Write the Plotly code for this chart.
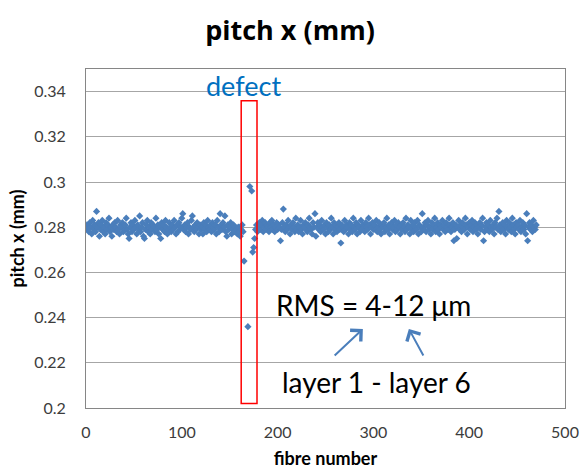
import plotly.graph_objects as go

# pitch per fibre in micrometres (None = no measurement in the defect region)
pitch_um = [
    281, 279, 278, 282, 280, 277, 283, 279, 281, 278,
    287, 280, 282, 276, 279, 281, 283, 278, 280, 277,
    282, 279, 281, 284, 278, 280, 276, 281, 279, 282,
    280, 278, 283, 279, 277, 281, 280, 282, 278, 279,
    281, 284, 279, 277, 275, 280, 282, 278, 281, 279,
    283, 280, 277, 281, 279, 285, 278, 280, 282, 276,
    275, 279, 281, 283, 278, 280, 277, 282, 279, 281,
    280, 278, 284, 279, 281, 277, 280, 275, 282, 279,
    281, 278, 283, 280, 277, 279, 282, 280, 278, 281,
    279, 283, 280, 277, 281, 278, 282, 279, 280, 284,
    286, 279, 281, 278, 280, 282, 277, 280, 279, 283,
    285, 280, 278, 281, 279, 282, 280, 277, 281, 279,
    280, 277, 282, 279, 281, 278, 283, 280, 279, 281,
    278, 282, 280, 279, 281, 277, 283, 280, 278, 286,
    281, 279, 282, 280, 285, 278, 276, 281, 279, 280,
    282, 277, 279, 281, 278, 280, 279, 277, 280, 278,
    276, 279, 281, 278, 265, None, None, None, 236, None,
    298, None, 296, 269, 271, 275, 279, 281, 278, 280,
    282, 279, 281, 283, 278, 280, 282, 279, 281, 280,
    278, 282, 280, 283, 279, 281, 278, 280, 282, 279,
    281, 280, 274, 279, 282, 288, 280, 278, 281, 279,
    283, 280, 277, 281, 279, 282, 280, 278, 284, 279,
    281, 278, 280, 283, 279, 277, 281, 280, 282, 279,
    278, 281, 284, 280, 279, 277, 282, 280, 286, 276,
    280, 282, 279, 281, 278, 283, 280, 279, 281, 277,
    282, 280, 278, 281, 279, 284, 280, 277, 282, 279,
    281, 278, 280, 282, 279, 273, 281, 280, 278, 283,
    279, 281, 280, 277, 282, 279, 281, 278, 284, 280,
    279, 282, 277, 281, 280, 278, 283, 279, 281, 280,
    278, 282, 280, 279, 284, 281, 277, 280, 282, 279,
    281, 279, 283, 278, 280, 282, 279, 277, 281, 280,
    282, 278, 280, 284, 279, 281, 277, 280, 282, 279,
    280, 283, 278, 281, 279, 282, 280, 277, 281, 279,
    282, 280, 278, 284, 279, 281, 280, 277, 283, 279,
    281, 278, 282, 280, 279, 283, 277, 281, 280, 278,
    286, 280, 279, 282, 278, 281, 283, 279, 280, 277,
    282, 279, 281, 284, 278, 280, 282, 279, 277, 281,
    280, 283, 279, 281, 278, 282, 280, 279, 284, 281,
    278, 280, 282, 274, 279, 281, 275, 280, 283, 279,
    281, 278, 282, 280, 279, 284, 281, 277, 280, 282,
    279, 281, 283, 278, 280, 282, 279, 281, 277, 280,
    282, 279, 281, 284, 274, 278, 280, 282, 279, 281,
    278, 283, 280, 279, 281, 277, 282, 280, 284, 279,
    287, 281, 278, 280, 282, 279, 281, 277, 283, 280,
    279, 282, 280, 278, 284, 281, 279, 277, 282, 280,
    281, 279, 283, 278, 280, 282, 279, 281, 277, 286,
    274, 280, 282, 279, 281, 278, 283, 280, 279, 281,
]
fibre = list(range(1, len(pitch_um) + 1))
pitch_mm = [None if v is None else v / 1000 for v in pitch_um]

defect_fibres = [162, 178.5]
font = 'Lato, Open Sans, sans-serif'
blue = '#4a7ebb'

fig = go.Figure()
fig.add_trace(go.Scatter(
    x=fibre, y=pitch_mm, mode='markers',
    marker=dict(symbol='diamond', size=5.5, color=blue),
    showlegend=False
))

fig.add_shape(type='rect', x0=defect_fibres[0], x1=defect_fibres[1],
              y0=0.202, y1=0.336, line=dict(color='red', width=1.5))

fig.add_annotation(x=164, y=0.3425, text='defect',
                   showarrow=False, font=dict(family=font, size=27, color='#0070c0'))
fig.add_annotation(x=404, y=0.2455, text='RMS = 4-12 μm', showarrow=False,
                   font=dict(family=font, size=28, color='black'), xanchor='right')
fig.add_annotation(x=404, y=0.2115, text='layer 1 - layer 6', showarrow=False,
                   font=dict(family=font, size=28, color='black'), xanchor='right')

for head, tail in [((289, 0.235), (258, 0.2226)), ((337, 0.235), (353, 0.2226))]:
    fig.add_annotation(x=head[0], y=head[1], ax=tail[0], ay=tail[1],
                       xref='x', yref='y', axref='x', ayref='y', text='',
                       showarrow=True, arrowhead=4, arrowsize=1.5,
                       arrowwidth=2, arrowcolor=blue)

fig.update_layout(
    width=580, height=469,
    margin=dict(l=86, r=15, t=69, b=61, autoexpand=False),
    paper_bgcolor='white', plot_bgcolor='white',
    font=dict(family=font, size=16, color='#3c3c3c'),
    title=dict(text='<b>pitch x (mm)</b>', x=0.5, xanchor='center', y=0.935, yanchor='middle',
               font=dict(family='Open Sans, sans-serif', size=27, color='black')),
)
fig.update_xaxes(range=[0, 500], dtick=100, showgrid=False, zeroline=False,
                 showline=True, linecolor='#868686', mirror=True, automargin=False,
                 ticklabelstandoff=10,
                 title=dict(text='<b>fibre number</b>', font=dict(size=18, color='black'), standoff=12))
fig.update_yaxes(range=[0.2, 0.35], tickvals=[0.2, 0.22, 0.24, 0.26, 0.28, 0.3, 0.32, 0.34],
                 showgrid=True, gridcolor='#a6a6a6', zeroline=False, automargin=False,
                 showline=True, linecolor='#868686', mirror=True, ticklabelstandoff=16,
                 title=dict(text='<b>pitch x (mm)</b>', font=dict(size=18, color='black'), standoff=4))

# the page body has a default 8px margin; drop it so the figure fills the window
fig.write_html('out.html', config={'displayModeBar': False},
               post_script="document.body.style.margin='0';")
